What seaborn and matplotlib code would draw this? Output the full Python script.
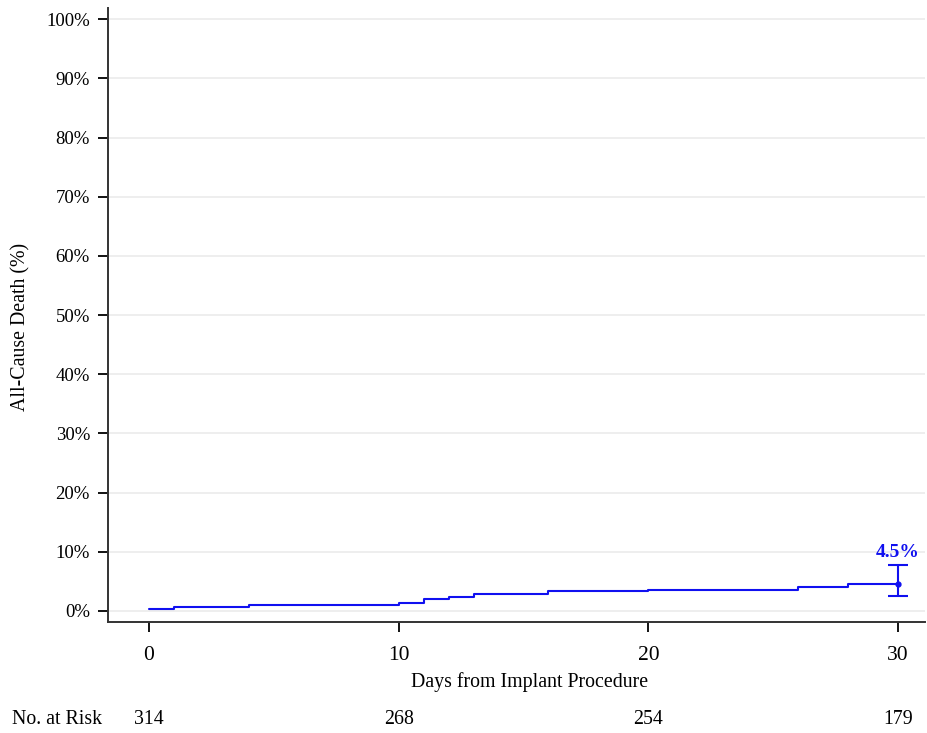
import matplotlib
matplotlib.use("Agg")
import matplotlib.pyplot as plt
import seaborn as sns
import pandas as pd

days = [0, 1, 4, 10, 11, 12, 13, 16, 20, 26, 28, 30]
death_pct = [0.3, 0.6, 1.0, 1.3, 2.0, 2.4, 2.9, 3.3, 3.5, 4.0, 4.5, 4.5]
final_day = 30
final_est = 4.5
ci_low = 2.6
ci_high = 7.8
risk_days = [0, 10, 20, 30]
at_risk = [314, 268, 254, 179]
y_ticks = [0, 10, 20, 30, 40, 50, 60, 70, 80, 90, 100]

sns.set_style("white")
plt.rcParams['font.family'] = ['Liberation Serif', 'DejaVu Serif']
plt.rcParams['text.color'] = 'black'
plt.rcParams['axes.labelcolor'] = 'black'

df = pd.DataFrame({"day": days, "pct": death_pct})

fig = plt.figure(figsize=(9.28, 7.33), dpi=100)
ax = fig.add_axes([108/928, 1-622/733, (925-108)/928, (622-8)/733])

for yt in y_ticks:
    ax.axhline(yt, color="#ebebeb", lw=1.2, zorder=0)

sns.lineplot(data=df, x="day", y="pct", drawstyle="steps-post", color="#1010f0", lw=1.5, ax=ax)
ax.errorbar([final_day], [final_est], yerr=[[final_est - ci_low], [ci_high - final_est]],
            fmt="o", ms=3.5, color="#1010f0", capsize=7, elinewidth=1.5, capthick=1.5)
ax.text(final_day, ci_high + 0.7, f"{final_est}%", color="#1010f0", fontsize=14,
        fontweight="bold", ha="center", va="bottom")

ax.set_xlim(-1.64, 31.08)
ax.set_ylim(-1.86, 101.9)
ax.set_xticks(risk_days)
ax.set_yticks(y_ticks)
ax.set_yticklabels([f"{v}%" for v in y_ticks])
ax.tick_params(axis="both", which="major", direction="out", length=7, width=1.3,
               labelsize=13.5, colors="black", pad=6, bottom=True, left=True)
ax.tick_params(axis="x", pad=10, labelsize=15.5)
for s in ["top", "right"]:
    ax.spines[s].set_visible(False)
for s in ["left", "bottom"]:
    ax.spines[s].set_color("#333333")
    ax.spines[s].set_linewidth(1.4)

ax.set_xlabel("Days from Implant Procedure", fontsize=14.3)
ax.set_ylabel("All-Cause Death (%)", fontsize=14.3)
ax.xaxis.set_label_coords(530/928, 1-672/733, transform=fig.transFigure)
ax.yaxis.set_label_coords(30/928, 1-327/733, transform=fig.transFigure)

fig.text(12/928, 1-720/733, "No. at Risk", fontsize=14.3, ha="left", va="center")
for d, n in zip(risk_days, at_risk):
    xd = ax.transData.transform((d, 0))[0] / fig.bbox.width
    fig.text(xd, 1-720/733, str(n), fontsize=14.3, ha="center", va="center")

fig.savefig("out.png", dpi=100)
